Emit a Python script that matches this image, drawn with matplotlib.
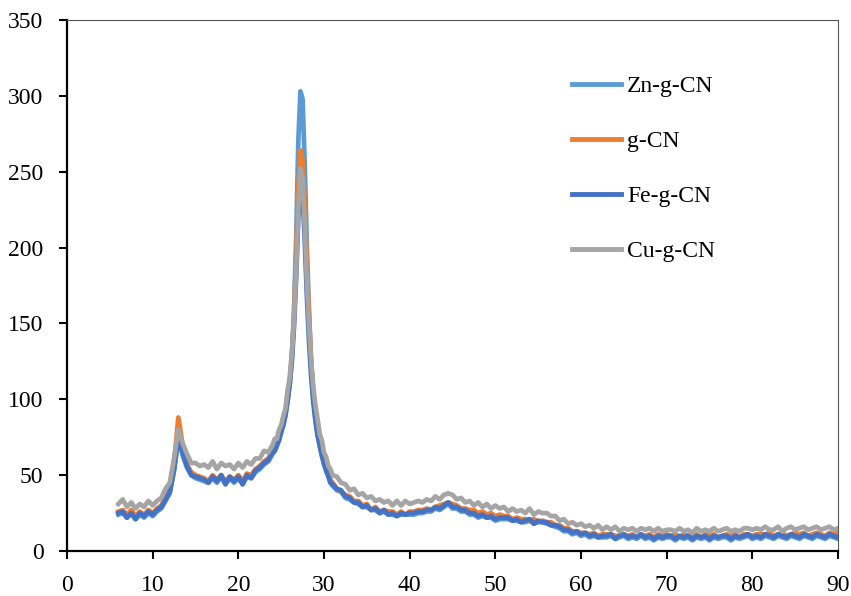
import numpy as np
import matplotlib
matplotlib.use("Agg")
import matplotlib.pyplot as plt

plt.rcParams['font.family'] = ['Liberation Serif', 'DejaVu Serif']

# 2-theta grid (degrees): coarse, fine around main peak, coarse
x_a = np.arange(6.0, 24.0, 0.5)
x_b = np.arange(24.0, 31.0, 0.25)
x_c = np.arange(31.0, 90.01, 0.5)
two_theta = np.concatenate([x_a, x_b, x_c])

labels = ["Zn-g-CN", "g-CN", "Fe-g-CN", "Cu-g-CN"]
colors = ["#5B9BD5", "#ED7D31", "#4472C4", "#A5A5A5"]

zn_g_cn = (
    [24,25,22,25,21,24,22,25,23,26,28,33,38,53,74,63,55,50,48,47,46,45,48,45,49,44,48,45,48,44,49,48,52,54,57,59]
    + [64,66,69,73,78,83,89,99,110,128,158,205,270,303,298,255,200,158,124,102,87,77,69,63,57,53,49,45]
    + [43,40,39,35,34,32,31,29,29,27,27,25,26,24,24,23,24,24,24]
    + [24,25,25,26,26,28,27,29,31,28,28,26,26,24,24,22,23,22,22,20]
    + [21,21,21,20,20,19,19,20,18,19,19,18,17,16,15,13,13,11,12,10]
    + [11,9,10,9,9,9,10,8,9,10,8,9,8,10,8,9,7,9,8,9]
    + [9,7,9,8,9,7,9,8,9,7,9,8,9,9,7,9,8,9,10,8]
    + [9,8,10,9,8,10,9,8,10,9,8,10,9,8,10,9,8,10,9,8]
)

g_cn = (
    [26,27,24,27,23,26,24,27,25,28,30,35,41,58,88,70,57,52,50,49,48,46,50,47,50,46,49,47,50,46,51,50,54,56,59,61]
    + [66,68,71,75,80,85,91,101,112,128,155,195,240,264,258,230,190,155,125,105,90,80,72,65,59,55,51,47]
    + [45,41,39,37,36,33,33,30,31,27,29,26,27,26,26,24,26,24,26]
    + [26,27,27,28,27,29,30,31,32,31,30,28,28,27,27,25,26,24,25,23]
    + [24,23,23,21,22,21,21,20,21,19,20,19,19,17,17,15,15,13,13,12]
    + [12,11,12,10,11,11,11,10,10,11,10,11,9,11,10,11,9,11,10,11]
    + [10,11,9,11,10,10,11,9,11,10,11,9,10,11,10,11,9,11,11,10]
    + [11,11,11,12,10,11,12,10,11,12,11,12,10,11,12,11,10,12,11,12]
)

fe_g_cn = (
    [25,26,22,25,21,25,23,26,24,27,29,34,39,54,76,65,56,50,49,48,47,45,49,46,50,44,49,46,49,44,50,48,53,55,58,60]
    + [65,66,70,73,79,83,90,99,110,125,148,180,220,242,236,205,168,138,115,98,86,76,70,63,58,53,50,45]
    + [44,41,40,36,35,32,32,29,30,27,28,25,27,24,25,23,25,24,25]
    + [25,26,26,27,27,29,28,30,32,29,29,27,27,25,25,23,24,22,23,21]
    + [22,22,22,20,21,19,20,21,18,20,19,19,17,17,16,14,14,12,13,11]
    + [12,10,11,9,10,10,11,8,10,11,9,10,9,11,9,10,8,10,9,10]
    + [10,8,10,9,10,8,10,9,10,8,10,9,10,10,8,10,9,10,11,9]
    + [10,9,11,10,9,11,10,9,11,10,9,11,10,9,11,10,9,11,10,9]
)

cu_g_cn = (
    [31,34,29,32,28,31,29,33,30,33,35,41,45,61,80,71,64,58,58,56,57,55,59,54,58,56,57,54,58,55,59,57,61,61,66,65]
    + [70,74,74,80,83,89,94,106,114,131,152,185,225,252,245,215,178,148,125,108,96,87,77,73,65,62,56,54]
    + [50,49,45,44,40,41,37,38,35,36,33,34,32,33,30,33,30,33,31]
    + [32,33,32,34,33,36,34,37,38,37,34,35,32,33,30,32,29,31,28,30]
    + [28,29,26,28,26,27,25,28,24,26,25,25,23,23,20,21,18,19,17,18]
    + [16,17,15,17,14,16,14,16,13,15,14,15,13,15,14,15,13,15,13,14]
    + [14,13,15,13,14,12,15,13,14,13,15,13,14,15,13,14,13,15,15,14]
    + [15,14,16,14,14,16,13,15,16,14,15,16,14,15,16,14,15,16,14,15]
)

series = [zn_g_cn, g_cn, fe_g_cn, cu_g_cn]

fig = plt.figure(figsize=(8.51, 5.96), dpi=100)
ax = fig.add_axes([67/851, 45/596, (838-67)/851, (551-20)/596])

for y, lab, c in zip(series, labels, colors):
    ax.plot(two_theta, y, color=c, lw=3.4, label=lab, solid_joinstyle='round')

ax.set_xlim(0, 90)
ax.set_ylim(0, 350)
ax.set_xticks(np.arange(0, 91, 10))
ax.set_yticks(np.arange(0, 351, 50))
ax.tick_params(axis='both', direction='out', length=6, width=1.5, labelsize=17, pad=11)

for s in ['left', 'bottom']:
    ax.spines[s].set_linewidth(1.6)
    ax.spines[s].set_color('black')
for s in ['top', 'right']:
    ax.spines[s].set_linewidth(0.8)
    ax.spines[s].set_color('#555555')

leg = ax.legend(loc='upper left', bbox_to_anchor=(0.627, 0.935), frameon=False,
                fontsize=17, handlelength=2.1, handletextpad=0.25, labelspacing=1.42)
for h in leg.get_lines():
    h.set_linewidth(3.5)

fig.savefig("out.png", dpi=100)
